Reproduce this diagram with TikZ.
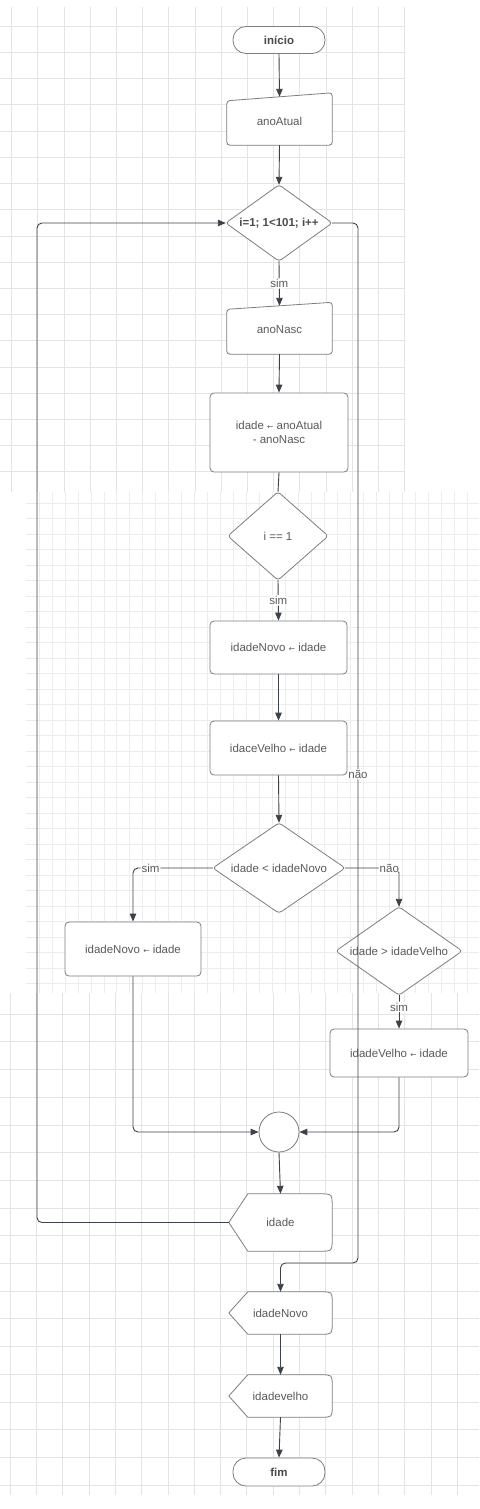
\documentclass[tikz,border=0pt]{standalone}
\usepackage{fontspec}
\setmainfont{Liberation Sans}
\newfontfamily\arrowfont{DejaVu Sans}
\usetikzlibrary{arrows.meta}
\definecolor{gridc}{HTML}{E4E4E4}
\definecolor{gridm}{HTML}{ECECEC}
\definecolor{shpc}{HTML}{7D7D7D}
\definecolor{conc}{HTML}{3C4249}
\definecolor{txtc}{HTML}{5A5A5A}
\definecolor{txtb}{HTML}{4A4A4A}
\newcommand{\fs}{\fontsize{11.5}{14}\selectfont}
\newcommand{\larr}{{\arrowfont\fontsize{7.5}{8}\selectfont ←}}
\newcommand{\dispout}[2]{%
  \draw[shp] ([xshift=19pt]#1.north west) -- ([xshift=-#2pt]#1.north east)
    .. controls (#1.north east) .. ([yshift=-#2pt]#1.north east)
    -- ([yshift=#2pt]#1.south east)
    .. controls (#1.south east) .. ([xshift=-#2pt]#1.south east)
    -- ([xshift=19pt]#1.south west) -- (#1.west) -- cycle;}
\newcommand{\manout}[2]{%
  \draw[shp, rounded corners=3pt] (#1.south west) -- ([yshift=-#2pt]#1.north west)
    -- ([yshift=#2pt]#1.north east) -- (#1.south east) -- cycle;}
\newcommand{\diaout}[1]{%
  \draw[shp, rounded corners=3pt] (#1.north) -- (#1.east) -- (#1.south) -- (#1.west) -- cycle;}
\pgfdeclarelayer{bg}
\pgfsetlayers{bg,main}
\begin{document}
\begin{tikzpicture}[x=1pt,y=-1pt,
  gridline/.style={draw=gridc, line width=0.6pt},
  gridfine/.style={draw=gridm, line width=0.6pt},
  shp/.style={draw=shpc, line width=0.8pt, fill=white, line join=round},
  box/.style={shp, rectangle, rounded corners=4pt, inner sep=0pt, align=center, text=txtc, font=\fs},
  term/.style={shp, rectangle, rounded corners=13pt, minimum width=92pt, minimum height=27pt, inner sep=0pt, text=txtb, font=\fs\bfseries},
  ghost/.style={rectangle, draw=none, inner sep=0pt, align=center, text=txtc, font=\fs},
  conn/.style={draw=conc, line width=0.9pt, rounded corners=5pt, -{Triangle[length=8pt,width=6.5pt]}},
  plainc/.style={draw=conc, line width=0.9pt, rounded corners=5pt},
  lbl/.style={fill=white, inner sep=1pt, text=txtc, font=\fs}
]
\useasboundingbox (0,0) rectangle (479,1509);

% nodes
\node[term] (start) at (279,40) {início};
\node[ghost, minimum width=105pt, minimum height=48pt] (atual) at (279.5,121) {anoAtual};
\node[ghost, font=\fs\bfseries, text=txtb, minimum width=106pt, minimum height=76pt] (loop) at (279,223) {i=1; 1<101; i++};
\node[ghost, minimum width=105pt, minimum height=48pt] (nasc) at (279.5,330) {anoNasc};
\node[box, minimum width=138pt, minimum height=79pt] (calc) at (279,432.5) {idade \larr{} anoAtual\\- anoNasc};
\node[ghost, minimum width=100pt, minimum height=88pt] (first) at (278,536) {i == 1};
\node[box, minimum width=137pt, minimum height=53pt] (novoa) at (278.5,647.5) {idadeNovo \larr{} idade};
\node[box, minimum width=137pt, minimum height=54pt] (velhoa) at (278.5,748) {idaceVelho \larr{} idade};
\node[ghost, minimum width=132pt, minimum height=90pt] (menor) at (279,868) {idade < idadeNovo};
\node[box, minimum width=136pt, minimum height=54pt] (novob) at (133,949) {idadeNovo \larr{} idade};
\node[ghost, minimum width=126pt, minimum height=88pt] (maior) at (399,951) {idade > idadeVelho};
\node[box, minimum width=138pt, minimum height=48pt] (velhob) at (399,1053) {idadeVelho \larr{} idade};
\node[shp, circle, minimum size=40pt, inner sep=0pt] (merge) at (279,1132) {};
\node[ghost, minimum width=103pt, minimum height=57pt] (showi) at (280.5,1222.5) {idade};
\node[ghost, minimum width=103pt, minimum height=42pt] (shown) at (280.5,1313) {idadeNovo};
\node[ghost, minimum width=103pt, minimum height=42pt] (showv) at (280.5,1396) {idadevelho};
\node[term, minimum height=28pt] (stop) at (279,1472) {fim};

\begin{pgfonlayer}{bg}
  % grid: top part
  \foreach \k in {0,...,15} \draw[gridline] ({11.5+26.2*\k},7) -- ({11.5+26.2*\k},492);
  \foreach \k in {1,...,18} \draw[gridline] (0,{26.2*\k}) -- (405,{26.2*\k});
  % grid: middle part
  \foreach \k in {1,...,34} \draw[gridfine] ({26+12.97*\k},492) -- ({26+12.97*\k},993);
  \foreach \k in {0,...,31} \draw[gridfine] (26,{503+15.5*\k}) -- (479,{503+15.5*\k});
  % grid: bottom part
  \foreach \k in {0,...,17} \draw[gridline] ({10+26.3*\k},993) -- ({10+26.3*\k},1495);
  \foreach \k in {0,...,17} \draw[gridline] (0,{1014+27.7*\k}) -- (479,{1014+27.7*\k});
  % outlines
  \manout{atual}{4}
  \manout{nasc}{3.5}
  \diaout{loop}
  \diaout{first}
  \diaout{menor}
  \diaout{maior}
  \dispout{showi}{13}
  \dispout{shown}{11}
  \dispout{showv}{11}
\end{pgfonlayer}

% connectors
\coordinate (lt) at (37,223);
\coordinate (rt) at (358,223);
\coordinate (rb) at (358,1263);
\draw[conn] (start.south) -- (atual.north);
\draw[conn] (atual.south) -- (loop.north);
\draw[conn] (loop.south) -- node[lbl]{sim} (nasc.north);
\draw[conn] (nasc.south) -- (calc.north);
\draw[plainc] (calc.south) -- (first.north);
\draw[conn] (first.south) -- node[lbl]{sim} (novoa.north);
\draw[conn] (novoa.south) -- (velhoa.north);
\draw[conn] (velhoa.south) -- (menor.north);
\draw[conn] (menor.west) -| node[lbl, pos=0.39]{sim} (novob.north);
\draw[conn] (menor.east) -| node[lbl, pos=0.41]{não} (maior.north);
\draw[conn] (maior.south) -- node[lbl, pos=0.35]{sim} (velhob.north);
\draw[conn] (novob.south) |- (merge.west);
\draw[conn] (velhob.south) |- (merge.east);
\draw[conn] (merge.south) -- (showi.north);
\draw[conn] (showi.west) -| (lt) -- (loop.west);
\draw[conn] (loop.east) -- (rt) -- node[lbl, pos=0.53]{não} (rb) -| (shown.north);
\draw[conn] (shown.south) -- (showv.north);
\draw[conn] (showv.south) -- (stop.north);
\end{tikzpicture}
\end{document}
